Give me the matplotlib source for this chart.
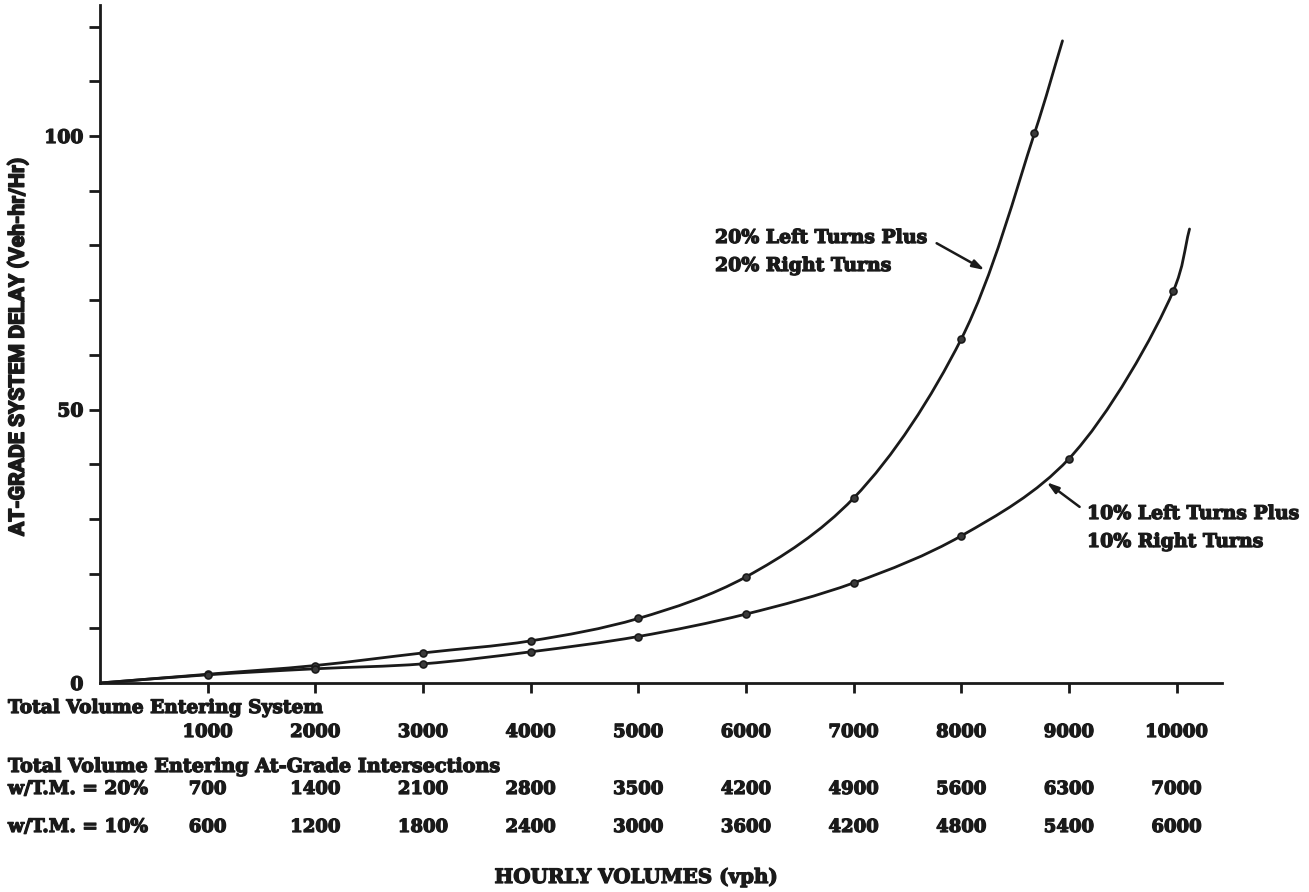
import matplotlib
matplotlib.use("Agg")
import matplotlib.pyplot as plt
import matplotlib.transforms as mtransforms
import matplotlib.patheffects as pe
from matplotlib.path import Path
from matplotlib.patches import PathPatch
import numpy as np

# values
volumes = [1000, 2000, 3000, 4000, 5000, 6000, 7000, 8000, 9000, 10000]
tm20_vol = [700, 1400, 2100, 2800, 3500, 4200, 4900, 5600, 6300, 7000]
tm10_vol = [600, 1200, 1800, 2400, 3000, 3600, 4200, 4800, 5400, 6000]

# 20% left + 20% right turns
pts20_x = [1000, 2000, 3000, 4000, 5000, 6000, 7000, 8000, 8680]
pts20_y = [1.6, 3.2, 5.5, 7.7, 11.8, 19.4, 33.8, 62.9, 100.5]
# 10% left + 10% right turns
pts10_x = [1000, 2000, 3000, 4000, 5000, 6000, 7000, 8000, 9000, 9970]
pts10_y = [1.5, 2.6, 3.5, 5.7, 8.5, 12.6, 18.3, 26.9, 41.0, 71.7]

# where the drawn curves start and stop
end20 = (8940, 117.4)
end10 = (10120, 83.0)

SERIF = "DejaVu Serif"
INK = "#1a1a1a"
# rough screen scale, only used to space the spline knots
SX, SY = 0.1077, 5.47


def smoothPath(xs, ys):
  """centripetal catmull-rom through the points, as bezier segments"""
  p = np.column_stack([np.asarray(xs) * SX, np.asarray(ys) * SY]).astype(float)
  p = np.vstack([2 * p[0] - p[1], p, 2 * p[-1] - p[-2]])
  verts = [p[1]]
  codes = [Path.MOVETO]
  for i in range(1, len(p) - 2):
    P0, P1, P2, P3 = p[i - 1], p[i], p[i + 1], p[i + 2]
    d01 = np.linalg.norm(P1 - P0) ** 0.5
    d12 = np.linalg.norm(P2 - P1) ** 0.5
    d23 = np.linalg.norm(P3 - P2) ** 0.5
    t0, t1 = 0.0, d01
    t2 = t1 + d12
    t3 = t2 + d23
    m1 = (t2 - t1) * ((P1 - P0) / (t1 - t0) - (P2 - P0) / (t2 - t0) + (P2 - P1) / (t2 - t1))
    m2 = (t2 - t1) * ((P2 - P1) / (t2 - t1) - (P3 - P1) / (t3 - t1) + (P3 - P2) / (t3 - t2))
    verts += [P1 + m1 / 3.0, P2 - m2 / 3.0, P2]
    codes += [Path.CURVE4] * 3
  verts = np.array(verts) / np.array([SX, SY])
  return Path(verts, codes)


fig = plt.figure(figsize=(13.09, 8.92), dpi=100)
ax = fig.add_axes([0.0764, 0.2343, 0.857, 0.7604])
ax.set_xlim(0, 10420)
ax.set_ylim(0, 124)

for xs, ys, end in [(pts20_x, pts20_y, end20), (pts10_x, pts10_y, end10)]:
  cx = [0] + xs + [end[0]]
  cy = [0] + ys + [end[1]]
  ax.add_patch(PathPatch(smoothPath(cx, cy), fill=False, lw=2.0,
                         edgecolor=INK, capstyle="round", zorder=3))
  ax.plot(xs, ys, "o", ms=5, color="#3a3a3a", mec=INK, mew=1.2, zorder=4)

# axes look
for s in ["top", "right"]:
  ax.spines[s].set_visible(False)
for s in ["left", "bottom"]:
  ax.spines[s].set_linewidth(2.0)
  ax.spines[s].set_color(INK)

bold = [pe.withStroke(linewidth=0.9, foreground=INK)]

ax.set_xticks(volumes)
ax.set_xticklabels([])
ax.tick_params(axis="x", direction="out", length=7, width=2, color=INK)
ax.set_yticks([0, 50, 100])
ax.set_yticklabels(["0", "50", "100"], fontfamily=SERIF, fontweight="bold",
                   fontsize=13.5, color=INK)
for t in ax.get_yticklabels():
  t.set_path_effects(bold)
ax.set_yticks(np.arange(10, 121, 10), minor=True)
ax.tick_params(axis="y", which="both", direction="out", length=8, width=2,
               color=INK, pad=4)
ax.yaxis.get_major_ticks()[0].tick1line.set_visible(False)

fig.text(18 / 1309, 1 - 347 / 892, "AT-GRADE SYSTEM DELAY (Veh-hr/Hr)",
         rotation=90, ha="center", va="center", fontsize=15.3,
         fontweight="bold", color=INK, family=["Roboto", "DejaVu Sans"],
         path_effects=[pe.withStroke(linewidth=1.1, foreground=INK)])

# the volume table under the axis
tf = mtransforms.blended_transform_factory(ax.transData, fig.transFigure)
def fy(py):
  return 1 - py / 892.0

txt = dict(fontfamily=SERIF, fontweight="bold", fontsize=13.4, color=INK,
           path_effects=bold)
num = dict(txt, fontsize=13)
fig.text(8 / 1309, fy(708), "Total Volume Entering System", ha="left",
         va="center", **txt)
for v in volumes:
  ax.text(v, fy(732), str(v), transform=tf, ha="center", va="center", **num)
fig.text(8 / 1309, fy(767), "Total Volume Entering At-Grade Intersections",
         ha="left", va="center", **dict(txt, fontsize=13.8))
fig.text(8 / 1309, fy(789), "w/T.M. = 20%", ha="left", va="center", **txt)
for v, t in zip(volumes, tm20_vol):
  ax.text(v, fy(789), str(t), transform=tf, ha="center", va="center", **num)
fig.text(8 / 1309, fy(827), "w/T.M. = 10%", ha="left", va="center", **txt)
for v, t in zip(volumes, tm10_vol):
  ax.text(v, fy(827), str(t), transform=tf, ha="center", va="center", **num)

fig.text(636 / 1309, fy(877), "HOURLY VOLUMES (vph)", ha="center",
         va="center", **dict(txt, fontsize=14.3))

# curve labels with arrows
lab = dict(fontfamily=SERIF, fontweight="bold", fontsize=13.6, color=INK,
           ha="left", va="center", path_effects=bold)
fig.text(715 / 1309, fy(238), "20% Left Turns Plus", **lab)
fig.text(715 / 1309, fy(266), "20% Right Turns", **lab)
fig.text(1087 / 1309, fy(514), "10% Left Turns Plus", **lab)
fig.text(1087 / 1309, fy(542), "10% Right Turns", **lab)

arr = dict(arrowstyle="-|>,head_length=0.7,head_width=0.22", lw=1.8,
           color=INK, shrinkA=0, shrinkB=0)
ax.annotate("", xy=(8217, 75.5), xytext=(7771, 80.4), arrowprops=arr)
ax.annotate("", xy=(8793, 36.7), xytext=(9099, 32.2), arrowprops=arr)

fig.savefig("out.png", dpi=100)
